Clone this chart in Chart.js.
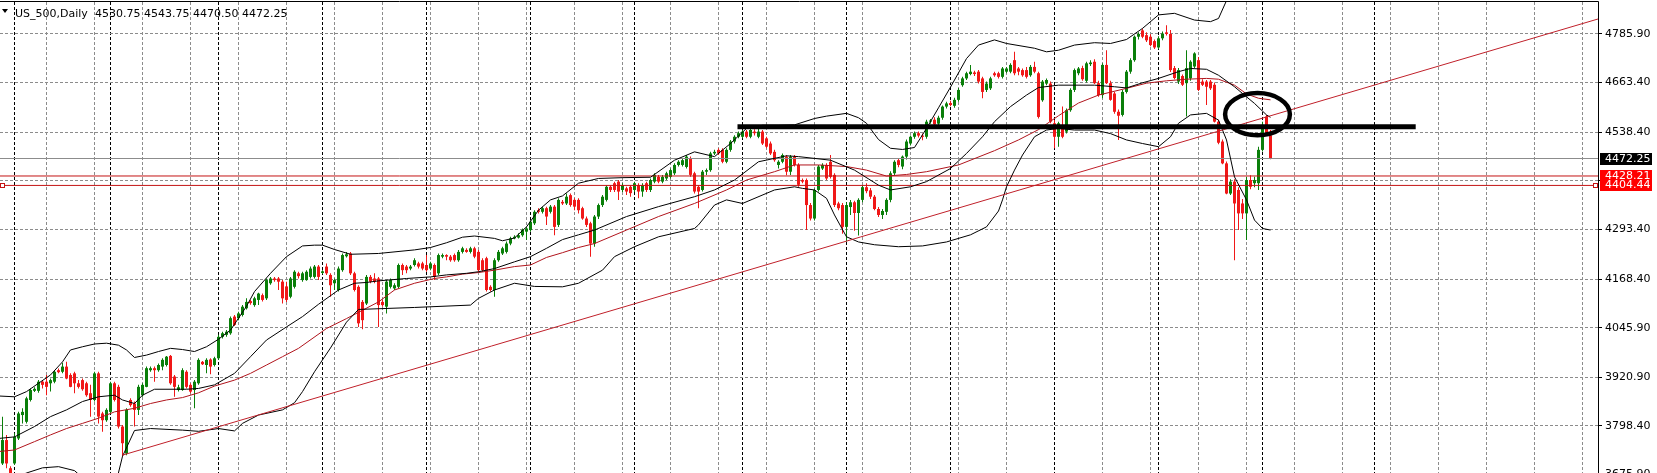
<!DOCTYPE html>
<html><head><meta charset="utf-8">
<script src="https://cdn.jsdelivr.net/npm/chart.js@4.4.1/dist/chart.umd.min.js"></script>
<style>html,body{margin:0;padding:0;background:#fff;overflow:hidden}#wrap{width:1657px;height:473px;position:relative}</style>
</head><body><div id="wrap"><canvas id="c"></canvas></div>
<script>
const symbolName = 'US_500,Daily';
// daily candles, bar index 0..317
const open = [
3704,3763,3692,3704,3767,3826,3809,3864,3887,3887, 3910,3910,3906,3910,3939,3935,3948,3927,3931,3906,
3914,3906,3881,3864,3931,3830,3813,3834,3906,3897, 3797,3729,3864,3855,3839,3876,3897,3939,3944,3939,
3948,3952,3975,3923,3889,3889,3935,3902,3889,3906, 3960,3952,3966,3952,3969,4023,4028,4032,4074,4070,
4078,4095,4113,4103,4116,4128,4120,4158,4170,4170, 4162,4150,4124,4149,4183,4166,4166,4174,4174,4200,
4184,4200,4179,4158,4141,4191,4226,4233,4183,4149, 4111,4107,4174,4170,4170,4111,4099,4149,4145,4149,
4204,4200,4195,4204,4208,4208,4204,4195,4204,4183, 4225,4229,4225,4229,4216,4237,4242,4237,4246,4237,
4216,4221,4149,4141,4216,4233,4237,4258,4271,4273, 4279,4288,4292,4309,4342,4338,4347,4338,4351,4305,
4363,4359,4380,4368,4368,4347,4321,4309,4258,4326, 4355,4368,4401,4410,4414,4393,4397,4401,4393,4405,
4389,4410,4393,4414,4426,4414,4422,4426,4435,4456, 4456,4451,4473,4435,4401,4393,4439,4443,4485,4494,
4494,4464,4494,4515,4527,4527,4540,4527,4540,4527, 4540,4523,4510,4489,4456,4464,4477,4439,4477,4456,
4418,4418,4355,4321,4393,4447,4456,4464,4431,4359, 4355,4300,4350,4362,4335,4368,4400,4392,4376,4345,
4330,4338,4368,4435,4468,4452,4477,4510,4527,4536, 4530,4527,4565,4570,4560,4575,4603,4612,4605,4620,
4657,4674,4685,4689,4691,4674,4645,4649,4687,4687, 4678,4691,4691,4720,4699,4695,4695,4682,4703,4687,
4619,4661,4661,4561,4527,4552,4540,4594,4645,4687, 4700,4668,4710,4716,4662,4632,4708,4662,4636,4590,
4582,4640,4691,4720,4779,4795,4783,4779,4768,4752, 4775,4790,4786,4700,4666,4680,4662,4674,4704,4720,
4666,4666,4666,4658,4565,4515,4460,4384,4414,4393, 4359,4334,4418,4410,4410,4494,4578,4530.75];
const high = [
3822,3776,3697,3780,3834,3843,3872,3893,3896,3914, 3914,3927,3918,3939,3943,3958,3960,3931,3935,3914,
3918,3910,3902,3935,3935,3834,3843,3910,3910,3902, 3801,3843,3868,3860,3902,3906,3948,3948,3948,3956,
3969,3975,3977,3927,3902,3944,3939,3906,3914,3969, 3962,3969,3969,3973,4028,4036,4040,4074,4078,4086,
4103,4120,4116,4124,4134,4132,4170,4174,4174,4174, 4166,4162,4174,4191,4187,4187,4191,4200,4204,4204,
4191,4208,4183,4170,4200,4233,4237,4237,4187,4153, 4116,4179,4179,4183,4174,4116,4166,4170,4158,4208,
4208,4204,4204,4221,4212,4212,4229,4212,4208,4233, 4233,4231,4229,4233,4242,4250,4246,4250,4250,4242,
4221,4225,4153,4221,4242,4250,4263,4275,4279,4284, 4296,4300,4317,4342,4347,4351,4351,4355,4355,4372,
4368,4384,4384,4372,4372,4351,4326,4313,4330,4359, 4380,4405,4405,4414,4418,4410,4401,4405,4414,4410,
4410,4414,4422,4435,4431,4431,4439,4447,4460,4468, 4472,4481,4477,4439,4405,4443,4447,4489,4494,4498,
4498,4498,4519,4531,4540,4544,4544,4552,4546,4548, 4544,4527,4515,4494,4468,4485,4481,4481,4481,4460,
4422,4422,4360,4397,4456,4460,4460,4481,4435,4363, 4360,4362,4368,4366,4372,4405,4410,4398,4380,4350,
4345,4372,4440,4468,4472,4480,4520,4530,4540,4540, 4535,4570,4572,4576,4580,4606,4615,4618,4625,4650,
4678,4691,4708,4693,4695,4678,4666,4678,4691,4691, 4703,4703,4712,4741,4703,4699,4703,4708,4716,4691,
4670,4674,4666,4569,4565,4603,4598,4649,4699,4703, 4706,4716,4720,4722,4668,4712,4745,4668,4640,4596,
4645,4695,4725,4782,4790,4800,4790,4785,4772,4780, 4792,4808,4796,4705,4700,4684,4745,4720,4740,4728,
4672,4670,4670,4664,4570,4520,4465,4420,4420,4400, 4370,4426,4430,4426,4502,4565,4582,4543.75];
const low = [
3700,3692,3675,3700,3763,3805,3805,3860,3884,3882, 3893,3876,3885,3906,3931,3931,3916,3896,3881,3893,
3887,3872,3822,3860,3805,3784,3809,3830,3860,3792, 3721,3725,3847,3797,3826,3872,3896,3935,3910,3935,
3939,3948,3902,3872,3885,3887,3893,3881,3843,3902, 3952,3931,3929,3948,3965,4019,4023,4028,4050,4065,
4074,4092,4104,4099,4103,4112,4116,4154,4162,4141, 4107,4111,4120,4145,4170,4162,4164,4170,4170,4166,
4181,4179,4124,4141,4137,4187,4223,4179,4137,4048, 4042,4103,4158,4158,4048,4099,4082,4145,4141,4145,
4179,4183,4191,4200,4195,4191,4187,4191,4166,4179, 4221,4216,4212,4212,4212,4233,4235,4233,4221,4187,
4187,4137,4137,4124,4212,4229,4233,4254,4269,4271, 4275,4267,4288,4305,4334,4334,4305,4334,4279,4300,
4355,4355,4351,4342,4334,4318,4300,4225,4250,4320, 4350,4364,4388,4388,4368,4388,4380,4376,4388,4372,
4376,4388,4388,4410,4410,4410,4418,4422,4431,4452, 4452,4447,4426,4384,4347,4389,4431,4439,4481,4481,
4460,4460,4489,4510,4523,4523,4523,4523,4530,4523, 4506,4498,4481,4464,4447,4460,4430,4431,4452,4401,
4410,4292,4316,4316,4389,4443,4418,4422,4350,4342, 4283,4263,4330,4290,4278,4362,4385,4370,4342,4325,
4320,4330,4362,4430,4450,4445,4470,4505,4522,4525, 4518,4522,4560,4553,4555,4570,4598,4604,4600,4615,
4653,4670,4682,4680,4661,4624,4640,4645,4678,4674, 4674,4687,4687,4682,4682,4678,4674,4678,4687,4573,
4615,4657,4561,4498,4502,4523,4535,4590,4640,4682, 4668,4664,4705,4660,4628,4624,4660,4618,4585,4519,
4578,4636,4686,4716,4772,4775,4766,4755,4748,4748, 4770,4782,4690,4672,4660,4655,4578,4668,4700,4642,
4655,4607,4645,4563,4508,4458,4382,4380,4216,4292, 4320,4267,4395,4400,4393,4490,4530,4470.50];
const close = [
3763,3704,3680,3771,3830,3834,3868,3889,3892,3910, 3902,3897,3914,3935,3934,3948,3918,3897,3906,3897,
3891,3876,3864,3931,3822,3813,3839,3906,3864,3797, 3755,3839,3851,3839,3897,3902,3944,3944,3939,3952,
3965,3973,3906,3897,3896,3939,3897,3885,3910,3965, 3954,3965,3948,3969,4023,4032,4036,4070,4053,4082,
4099,4111,4108,4120,4132,4116,4166,4170,4166,4162, 4120,4116,4170,4187,4176,4183,4187,4195,4200,4174,
4188,4183,4153,4166,4195,4229,4231,4183,4141,4057, 4065,4174,4162,4162,4103,4103,4162,4166,4153,4204,
4191,4191,4200,4216,4200,4195,4191,4208,4174,4229, 4229,4225,4216,4216,4237,4246,4237,4246,4225,4191,
4191,4141,4141,4216,4237,4246,4258,4271,4275,4279, 4292,4296,4313,4338,4338,4347,4326,4351,4300,4368,
4359,4376,4355,4351,4342,4321,4305,4258,4326,4355, 4376,4401,4393,4393,4389,4405,4389,4385,4410,4389,
4405,4393,4418,4431,4414,4426,4435,4443,4456,4464, 4468,4477,4431,4389,4389,4439,4443,4485,4489,4485,
4464,4494,4515,4527,4536,4540,4527,4544,4536,4540, 4510,4502,4485,4468,4464,4481,4439,4477,4456,4406,
4414,4355,4321,4393,4452,4456,4422,4426,4355,4347, 4300,4355,4362,4335,4368,4400,4390,4376,4345,4330,
4340,4368,4435,4464,4456,4477,4515,4527,4536,4530, 4527,4565,4568,4558,4575,4603,4611,4607,4620,4645,
4674,4687,4691,4685,4666,4640,4661,4674,4682,4678, 4699,4699,4708,4687,4691,4682,4678,4703,4691,4577,
4666,4670,4565,4527,4561,4527,4594,4645,4695,4699, 4672,4712,4714,4662,4632,4708,4662,4620,4590,4580,
4640,4691,4720,4779,4786,4779,4770,4758,4752,4775, 4787,4786,4695,4675,4695,4658,4700,4716,4737,4645,
4658,4653,4649,4565,4512,4460,4384,4414,4359,4334, 4334,4418,4401,4418,4494,4557,4536,4472.25];

// indicator readings [bar, price]
const bbUpper = [[-1,3874],[3,3872],[6,3885],[9,3906],[12,3927],[15,3960],[17,3990],[20,3998],[23,4005],[26,4007],[29,4002],[31,3990],[33,3971],[36,3977],[39,3986],[42,3994],[45,3991],[48,3986],[51,3998],[54,4017],[57,4040],[58,4055],[60,4085],[61,4100],[63,4137],[67,4183],[71,4225],[75,4252],[78,4254],[80,4254],[83,4243],[87,4231],[94,4233],[103,4242],[107,4248],[111,4260],[115,4274],[118,4277],[123,4271],[125,4265],[128,4272],[131,4300],[134,4342],[137,4368],[140,4378],[144,4410],[149,4422],[155,4424],[162,4425],[168,4468],[173,4489],[178,4477],[182,4510],[186,4548],[190,4556],[194,4556],[198,4557],[203,4573],[206,4579],[211,4586],[214,4575],[216,4561],[219,4520],[222,4498],[225,4495],[228,4500],[231,4548],[234,4600],[237,4652],[241,4724],[244,4758],[248,4771],[251,4762],[258,4750],[261,4741],[264,4745],[268,4758],[273,4764],[277,4762],[281,4772],[285,4800],[289,4834],[293,4838],[298,4821],[302,4817],[304,4825],[306,4870],[310,4900],[317,4920]];
const bbMiddle = [[-1,3767],[3,3771],[8,3797],[12,3822],[16,3839],[20,3860],[24,3872],[28,3876],[30,3864],[33,3855],[35,3876],[38,3891],[46,3891],[49,3893],[53,3902],[58,3931],[62,3973],[66,4015],[71,4048],[75,4074],[79,4105],[84,4141],[88,4158],[91,4160],[94,4164],[101,4170],[107,4174],[111,4179],[116,4183],[119,4187],[123,4195],[128,4212],[132,4225],[136,4246],[140,4268],[144,4280],[148,4292],[156,4326],[164,4351],[173,4376],[178,4393],[183,4418],[189,4464],[196,4479],[199,4477],[207,4468],[213,4443],[219,4405],[222,4393],[227,4401],[231,4414],[237,4447],[241,4485],[245,4527],[248,4565],[252,4603],[256,4632],[259,4651],[264,4657],[273,4657],[278,4653],[281,4650],[285,4663],[289,4674],[294,4691],[297,4699],[301,4697],[304,4682],[308,4653],[310,4636],[313,4611],[316,4582],[317,4576]];
const bbLower = [[-1,3655],[4,3672],[6,3680],[10,3693],[14,3696],[18,3686],[22,3650],[26,3610],[28,3640],[30,3722],[33,3787],[37,3792],[45,3788],[49,3785],[54,3792],[58,3786],[60,3805],[64,3826],[70,3839],[73,3857],[75,3885],[78,3935],[82,3995],[86,4060],[89,4092],[103,4097],[117,4103],[119,4120],[123,4141],[128,4158],[133,4150],[140,4149],[144,4158],[150,4191],[153,4225],[158,4250],[164,4275],[173,4296],[174,4305],[178,4355],[181,4368],[185,4359],[193,4393],[198,4401],[200,4397],[203,4393],[206,4372],[208,4330],[211,4275],[214,4262],[218,4255],[224,4250],[230,4252],[236,4262],[242,4280],[246,4300],[249,4340],[250,4368],[251,4401],[253,4443],[255,4481],[258,4527],[261,4544],[264,4548],[268,4544],[273,4544],[277,4535],[281,4519],[285,4510],[289,4502],[292,4527],[294,4561],[297,4582],[301,4586],[304,4569],[306,4519],[308,4426],[311,4368],[313,4317],[315,4296],[317,4292]];
const maRed = [[-1,3734],[3,3738],[8,3759],[12,3776],[16,3792],[20,3805],[24,3818],[28,3834],[33,3843],[37,3855],[41,3864],[45,3870],[49,3882],[53,3899],[58,3914],[62,3931],[66,3952],[70,3973],[74,3994],[81,4044],[86,4069],[90,4090],[94,4111],[98,4141],[103,4158],[108,4170],[111,4174],[115,4181],[119,4185],[123,4191],[128,4200],[132,4204],[136,4223],[140,4235],[144,4248],[148,4258],[156,4292],[164,4326],[173,4359],[181,4393],[186,4418],[193,4439],[198,4456],[204,4456],[211,4452],[216,4443],[221,4428],[226,4432],[231,4439],[239,4456],[248,4492],[254,4519],[259,4545],[264,4580],[269,4612],[274,4632],[281,4649],[286,4662],[291,4668],[296,4672],[301,4674],[304,4672],[308,4657],[311,4635],[314,4624],[317,4620]];

// drawn objects
const trendLine = [[30,3725],[398.875,4823.7]];
const supportLevel = 4552, supportFromBar = 183.75, supportToBar = 353.3;
const circleMark = {bar: 313.75, price: 4584, halfBars: 8.1, halfPrice: 53};
const bidPrice = 4472.25;
const redLevels = [4428.21, 4404.44];
const monthStarts = [3,27,54,80,106,132,158,185,211,237,263,289,315,343];
const yTickLabels = ['4785.90','4663.40','4538.40','4415.90','4293.40','4168.40','4045.90','3920.90','3798.40','3675.90'];

const X_MIN = -0.625, X_MAX = 398.875, Y_MIN = 3680.0, Y_MAX = 4866.5;
const GREEN = '#0a7f0a', RED = '#f01818';
const FONT = '"DejaVu Sans", sans-serif';
Chart.defaults.font.family = FONT;
Chart.defaults.font.size = 11;
Chart.defaults.color = '#000';

const n = close.length;
const idx = Array.from({length: n}, (_, i) => i);
const candleColor = c => (close[c.dataIndex] >= open[c.dataIndex] ? GREEN : RED);
const pts = arr => arr.map(([x, y]) => ({x, y}));
const hline = (v) => [{x: X_MIN, y: v}, {x: X_MAX, y: v}];
const lineDs = (data, color, width, order) => ({type: 'line', data, borderColor: color, borderWidth: width, pointRadius: 0, tension: 0, order, fill: false});

const chrome = {
  id: 'chrome',
  afterDatasetsDraw(chart) {
    const {ctx, scales: {x, y}} = chart;
    const cx = x.getPixelForValue(circleMark.bar), cy = y.getPixelForValue(circleMark.price);
    const rx = Math.abs(x.getPixelForValue(circleMark.bar + circleMark.halfBars) - cx);
    const ry = Math.abs(y.getPixelForValue(circleMark.price + circleMark.halfPrice) - cy);
    ctx.save();
    ctx.beginPath(); ctx.ellipse(cx, cy, rx, ry, 0, 0, Math.PI * 2);
    ctx.lineWidth = 4.5; ctx.strokeStyle = '#000'; ctx.stroke();
    const ys = Math.round(y.getPixelForValue(redLevels[1]));
    ctx.lineWidth = 1; ctx.strokeStyle = '#c41414'; ctx.fillStyle = '#fff';
    [[0.5, ys - 1.5], [chart.chartArea.right - 4.5, ys - 1.5]].forEach(([sx, sy]) => { ctx.fillRect(sx, sy, 4, 4); ctx.strokeRect(sx, sy, 4, 4); });
    ctx.restore();
  },
  afterDraw(chart) {
    const {ctx, chartArea: a, scales: {y}} = chart;
    ctx.save();
    ctx.strokeStyle = '#000'; ctx.lineWidth = 1;
    ctx.beginPath(); ctx.moveTo(0, 1.5); ctx.lineTo(a.right + 0.5, 1.5); ctx.lineTo(a.right + 0.5, chart.height); ctx.stroke();
    const tags = [{v: bidPrice, bg: '#000'}].concat(redLevels.map(v => ({v, bg: '#ff0000'})));
    tags.forEach(t => { const yc = Math.round(y.getPixelForValue(t.v)); ctx.fillStyle = t.bg; ctx.fillRect(a.right + 2, yc - 6, 52, 12); });
    ctx.font = '11px ' + FONT; ctx.textBaseline = 'middle'; ctx.textAlign = 'left'; ctx.fillStyle = '#fff';
    tags.forEach(t => { const yc = Math.round(y.getPixelForValue(t.v)); ctx.fillText(t.v.toFixed(2), a.right + 7, yc + 0.5); });
    ctx.fillStyle = '#000';
    ctx.beginPath(); ctx.moveTo(2, 9); ctx.lineTo(8, 9); ctx.lineTo(5, 13); ctx.closePath(); ctx.fill();
    ctx.textBaseline = 'alphabetic';
    ctx.fillText(symbolName, 15, 16.5);
    const L = n - 1;
    ctx.fillText([open[L], high[L], low[L], close[L]].map(v => v.toFixed(2)).join(' '), 95, 16.5);
    ctx.restore();
  }
};

new Chart(document.getElementById('c'), {
  type: 'bar',
  data: {
    datasets: [
      {type: 'bar', data: idx.map(i => ({x: i, y: [low[i], high[i]]})), backgroundColor: candleColor, barThickness: 1, grouped: false, inflateAmount: 0, borderWidth: 0, order: 10},
      {type: 'bar', data: idx.map(i => ({x: i, y: [open[i], close[i]]})), backgroundColor: candleColor, barThickness: 3, grouped: false, inflateAmount: 0, borderWidth: 0, minBarLength: 1, order: 9},
      lineDs(hline(bidPrice), '#8c8c8c', 1, 8),
      lineDs(hline(redLevels[0]), '#c41414', 1, 8),
      lineDs(hline(redLevels[1]), '#c41414', 1, 8),
      lineDs(pts(maRed), '#b0141c', 1, 7),
      lineDs(pts(bbUpper), '#000', 1, 6),
      lineDs(pts(bbMiddle), '#000', 1, 6),
      lineDs(pts(bbLower), '#000', 1, 6),
      lineDs(pts(trendLine), '#c0202a', 1, 3),
      lineDs([{x: supportFromBar, y: supportLevel}, {x: supportToBar, y: supportLevel}], '#000', 5, 2)
    ]
  },
  options: {
    responsive: true, maintainAspectRatio: false, animation: false,
    layout: {padding: {top: 2, left: 0, right: 0, bottom: 0}},
    plugins: {legend: {display: false}, tooltip: {enabled: false}},
    events: [],
    scales: {
      x: {
        type: 'linear', min: X_MIN, max: X_MAX, offset: false, position: 'bottom',
        grid: {color: '#8c8c8c', drawTicks: false, offset: false},
        border: {display: false, dash: [3, 2]},
        ticks: {display: false, autoSkip: false},
        afterBuildTicks: s => { const t = []; for (let v = 11; v <= X_MAX; v += 12) t.push({value: v}); s.ticks = t; },
        afterFit: s => { s.height = 0; s.paddingLeft = 0; s.paddingRight = 0; }
      },
      sep: {
        type: 'linear', min: X_MIN, max: X_MAX, offset: false, position: 'bottom',
        grid: {color: '#000', drawTicks: false, offset: false},
        border: {display: false, dash: [3, 2]},
        ticks: {display: false, autoSkip: false},
        afterBuildTicks: s => { s.ticks = monthStarts.map(v => ({value: v})); },
        afterFit: s => { s.height = 0; s.paddingLeft = 0; s.paddingRight = 0; }
      },
      y: {
        type: 'linear', position: 'right', min: Y_MIN, max: Y_MAX,
        grid: {color: '#8c8c8c', drawTicks: true, tickLength: 4, tickColor: '#000', tickWidth: 1, tickBorderDash: []},
        border: {display: false, dash: [3, 2]},
        ticks: {padding: 3, autoSkip: false, font: {size: 11, family: FONT}, color: '#000',
          callback: v => { const l = yTickLabels.find(s => Math.abs(parseFloat(s) - v) < 1e-6); return l === undefined ? '' : l; }},
        afterBuildTicks: s => { s.ticks = yTickLabels.map(l => ({value: parseFloat(l)})); },
        afterFit: s => { s.width = 59; s.paddingTop = 0; s.paddingBottom = 0; }
      }
    }
  },
  plugins: [chrome]
});
</script></body></html>
